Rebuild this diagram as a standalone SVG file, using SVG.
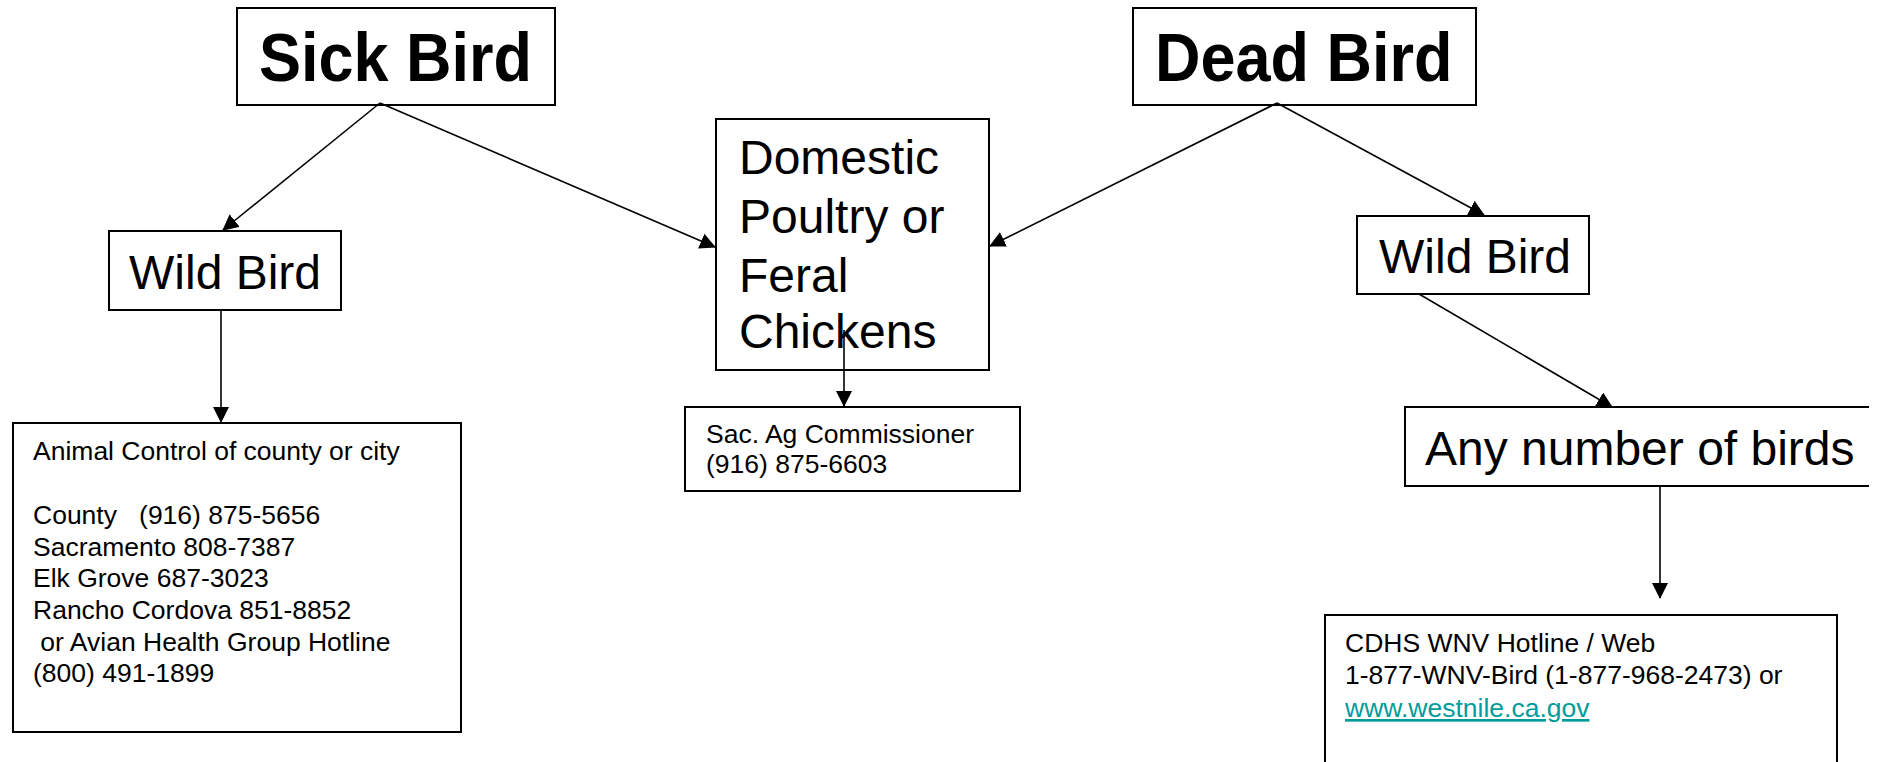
<svg xmlns="http://www.w3.org/2000/svg" width="1878" height="762" viewBox="0 0 1878 762">
<style>
.box{fill:#fff;stroke:#000;stroke-width:2}
.t{font-family:"Liberation Sans",Arial,sans-serif;fill:#000}
.big{font-size:48px}
.small{font-size:26.5px}
.hd{font-size:63px;font-weight:bold}
.link{fill:#009c9a;text-decoration:underline}
.con{stroke:#000;stroke-width:1.6;fill:none;marker-end:url(#ah)}
</style>
<defs>
<marker id="ah" markerUnits="userSpaceOnUse" markerWidth="16" markerHeight="16" refX="15" refY="8" orient="auto" viewBox="0 0 16 16">
<path d="M0,0 L16,8 L0,16 z" fill="#000"/>
</marker>
</defs>
<rect width="1878" height="762" fill="#fff"/>
<g id="sick-bird">
<rect class="box" x="237" y="8" width="318" height="97"/>
<text class="t hd" transform="translate(259,81) scale(1,1.08)">Sick Bird</text>
</g>
<g id="dead-bird">
<rect class="box" x="1133" y="8" width="343" height="97"/>
<text class="t hd" transform="translate(1155,81) scale(1,1.08)">Dead Bird</text>
</g>
<g id="wild-bird-left">
<rect class="box" x="109" y="231" width="232" height="79"/>
<text class="t big" x="129" y="289">Wild Bird</text>
</g>
<g id="domestic">
<rect class="box" x="716" y="119" width="273" height="251"/>
<text class="t big" x="739" y="174">Domestic</text>
<text class="t big" x="739" y="233">Poultry or</text>
<text class="t big" x="739" y="292">Feral</text>
<text class="t big" x="739" y="348">Chickens</text>
</g>
<g id="wild-bird-right">
<rect class="box" x="1357" y="216" width="232" height="78"/>
<text class="t big" x="1379" y="273">Wild Bird</text>
</g>
<g id="animal-control">
<rect class="box" x="13" y="423" width="448" height="309"/>
<text class="t small" x="33" y="460">Animal Control of county or city</text>
<text class="t small" x="33" y="524" xml:space="preserve">County   (916) 875-5656</text>
<text class="t small" x="33" y="556">Sacramento 808-7387</text>
<text class="t small" x="33" y="587">Elk Grove 687-3023</text>
<text class="t small" x="33" y="619">Rancho Cordova 851-8852</text>
<text class="t small" x="33" y="651" xml:space="preserve"> or Avian Health Group Hotline</text>
<text class="t small" x="33" y="682">(800) 491-1899</text>
</g>
<g id="sac-ag">
<rect class="box" x="685" y="407" width="335" height="84"/>
<text class="t small" x="706" y="443">Sac. Ag Commissioner</text>
<text class="t small" x="706" y="473">(916) 875-6603</text>
</g>
<g id="any-number">
<path d="M1869,407 H1405 V486 H1869" fill="#fff" stroke="#000" stroke-width="2"/>
<text class="t big" x="1425" y="465">Any number of birds</text>
</g>
<g id="cdhs">
<rect class="box" x="1325" y="615" width="512" height="160"/>
<text class="t small" x="1345" y="652">CDHS WNV Hotline / Web</text>
<text class="t small" x="1345" y="684">1-877-WNV-Bird (1-877-968-2473) or</text>
<text class="t small link" x="1345" y="717">www.westnile.ca.gov</text>
</g>
<g id="connectors">
<line class="con" x1="380" y1="103" x2="223" y2="230"/>
<line class="con" x1="380" y1="103" x2="715" y2="247"/>
<line class="con" x1="1277" y1="103" x2="990" y2="246"/>
<line class="con" x1="1277" y1="103" x2="1484" y2="215"/>
<line class="con" x1="1419" y1="294" x2="1612" y2="407"/>
<line class="con" x1="221" y1="310" x2="221" y2="422"/>
<line class="con" x1="844" y1="330" x2="844" y2="406"/>
<line class="con" x1="1660" y1="486" x2="1660" y2="598"/>
</g>
</svg>
